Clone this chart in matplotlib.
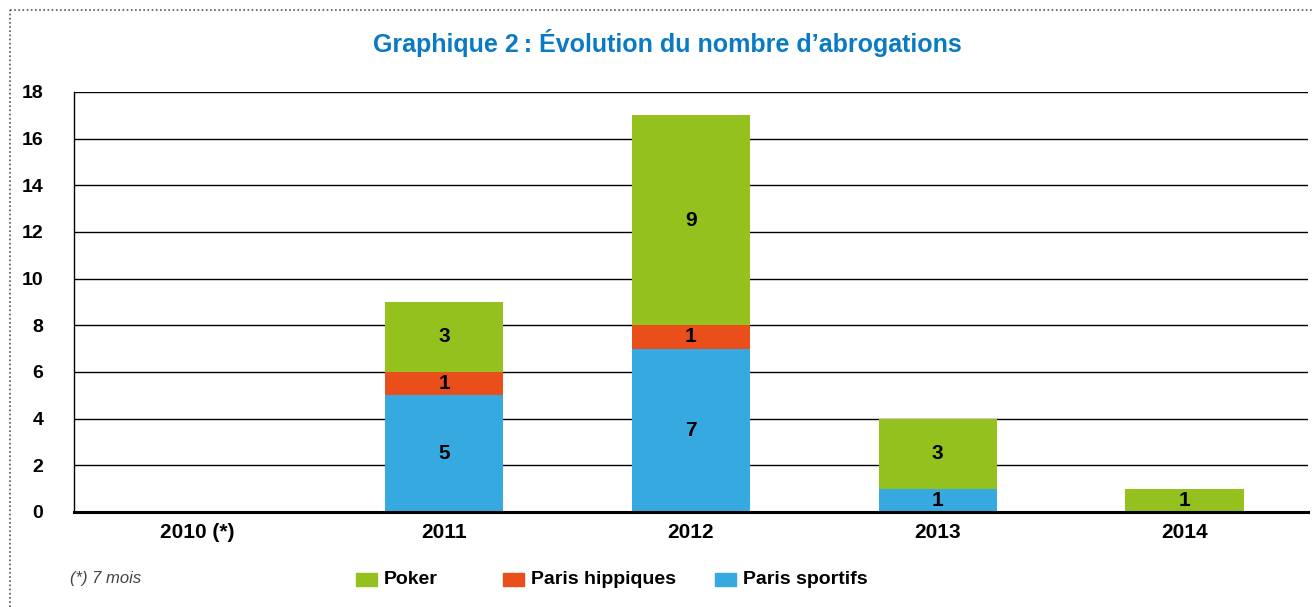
import matplotlib.pyplot as plt
import numpy as np
from matplotlib.lines import Line2D
from matplotlib.patches import Rectangle

years = ["2010 (*)", "2011", "2012", "2013", "2014"]
paris_sportifs = [0, 5, 7, 1, 0]
paris_hippiques = [0, 1, 1, 0, 0]
poker = [0, 3, 9, 3, 1]
y_ticks = [0, 2, 4, 6, 8, 10, 12, 14, 16, 18]

c_poker = "#95c11f"
c_hipp = "#e94e1b"
c_sport = "#36a9e1"
title_color = "#0a7ac4"

plt.rcParams["font.family"] = ["Liberation Sans", "DejaVu Sans"]

fig = plt.figure(figsize=(13.14, 6.07), dpi=100)
ax = fig.add_axes([74 / 1314, 1 - 512 / 607, (1308 - 74) / 1314, (512 - 92) / 607])

x = np.arange(len(years))
w = 0.48
sport = np.array(paris_sportifs)
hipp = np.array(paris_hippiques)
pok = np.array(poker)
layers = [(sport, np.zeros_like(sport), c_sport),
          (hipp, sport, c_hipp),
          (pok, sport + hipp, c_poker)]
for vals, bottom, col in layers:
    bars = ax.bar(x, vals, w, bottom=bottom, color=col, zorder=3)
    for b, v in zip(bars, vals):
        if v > 0:
            ax.text(b.get_x() + b.get_width() / 2, b.get_y() + b.get_height() / 2,
                    str(v), ha="center", va="center", fontsize=15,
                    fontweight="bold", zorder=4)

ax.set_xlim(-0.5, len(years) - 0.5)
ax.set_ylim(0, 18)
ax.set_yticks(y_ticks)
ax.set_yticklabels([str(t) for t in y_ticks], fontsize=14, fontweight="bold")
ax.set_xticks(x)
ax.set_xticklabels(years, fontsize=15, fontweight="bold")
ax.tick_params(axis="y", length=0, pad=22)
ax.tick_params(axis="x", length=0, pad=8)
ax.yaxis.grid(True, color="black", linewidth=1.0, zorder=1)
ax.set_axisbelow(True)
for s in ["top", "right"]:
    ax.spines[s].set_visible(False)
ax.spines["left"].set_linewidth(1.0)
ax.spines["bottom"].set_linewidth(2.2)
ax.spines["bottom"].set_zorder(5)

fig.text(667 / 1314, 1 - 43 / 607, "Graphique 2\u2009: Évolution du nombre d\u2019abrogations",
         ha="center", va="center", fontsize=18, fontweight="bold", color=title_color)

# footnote and legend
fig.text(70 / 1314, 1 - 579 / 607, "(*) 7 mois", ha="left", va="center",
         fontsize=12, style="italic", color="#444444")
legend_items = [(356, "Poker", c_poker), (503, "Paris hippiques", c_hipp),
                (715, "Paris sportifs", c_sport)]
for px, label, col in legend_items:
    fig.patches.append(Rectangle((px / 1314, 1 - 586 / 607), 21 / 1314, 13 / 607,
                                 transform=fig.transFigure, color=col, figure=fig))
    fig.text((px + 28) / 1314, 1 - 579 / 607, label, ha="left", va="center",
             fontsize=14, fontweight="bold")

# dotted frame (left and top)
fig.lines.append(Line2D([10 / 1314, 10 / 1314], [0, 1 - 10 / 607], transform=fig.transFigure,
                        color="#555555", linestyle=(0, (1, 1.5)), linewidth=1.2))
fig.lines.append(Line2D([10 / 1314, 1], [1 - 10 / 607, 1 - 10 / 607], transform=fig.transFigure,
                        color="#555555", linestyle=(0, (1, 1.5)), linewidth=1.2))

fig.savefig("out.png", dpi=100, facecolor="white")
